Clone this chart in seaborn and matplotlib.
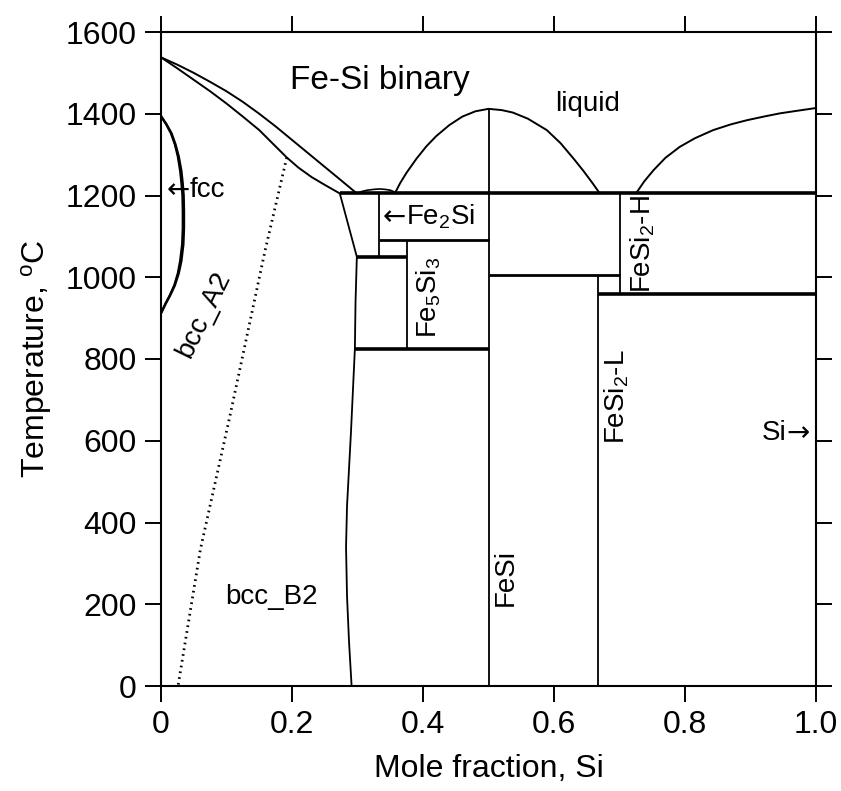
import matplotlib
matplotlib.use("Agg")
import matplotlib.pyplot as plt
import seaborn as sns

# ---------------------------------------------------------------- data
# Fe-rich liquidus / solidus (mole fraction Si, temperature degC)
liq_fe_x = [0.0, 0.025, 0.05, 0.075, 0.10, 0.125, 0.15, 0.175, 0.20, 0.225, 0.25, 0.275, 0.299]
liq_fe_T = [1538, 1520, 1500, 1478, 1455, 1429, 1400, 1369, 1336, 1303, 1270, 1237, 1205]
sol_fe_x = [0.0, 0.025, 0.05, 0.075, 0.10, 0.125, 0.15, 0.17, 0.192, 0.21, 0.23, 0.25, 0.273]
sol_fe_T = [1538, 1511, 1483, 1455, 1425, 1393, 1360, 1328, 1293, 1268, 1245, 1226, 1205]

# small Fe2Si liquidus hump
hump_x = [0.299, 0.307, 0.315, 0.325, 0.333, 0.342, 0.350, 0.356, 0.360]
hump_T = [1205, 1210, 1213, 1215, 1216, 1215, 1213, 1209, 1205]

# FeSi congruent-melting dome
dome_x = [0.357, 0.365, 0.375, 0.390, 0.405, 0.420, 0.440, 0.460, 0.480, 0.500,
          0.520, 0.537, 0.560, 0.589, 0.610, 0.630, 0.645, 0.658, 0.670]
dome_T = [1205, 1230, 1256, 1290, 1320, 1345, 1372, 1393, 1406, 1412,
          1409, 1403, 1388, 1360, 1328, 1290, 1260, 1232, 1205]

# Si-rich liquidus
liq_si_x = [0.726, 0.738, 0.752, 0.770, 0.792, 0.815, 0.843, 0.870, 0.894, 0.920, 0.945, 0.970, 1.0]
liq_si_T = [1207, 1235, 1262, 1292, 1319, 1340, 1360, 1374, 1384, 1393, 1401, 1407, 1414]

# gamma (fcc) loop, outer and inner boundaries
fcc_T = [1394, 1375, 1352, 1325, 1295, 1260, 1230, 1200, 1160, 1120,
         1080, 1040, 1010, 980, 955, 935, 912]
fcc_out_x = [0.0, 0.008, 0.016, 0.022, 0.027, 0.031, 0.033, 0.0345, 0.035, 0.035,
             0.034, 0.031, 0.027, 0.021, 0.0137, 0.007, 0.0]
fcc_in_x = [0.0, 0.0075, 0.015, 0.021, 0.0255, 0.029, 0.031, 0.0325, 0.033, 0.033,
            0.032, 0.029, 0.0255, 0.020, 0.013, 0.0065, 0.0]

# A2 / B2 ordering line
order_x = [0.192, 0.159, 0.105, 0.060, 0.026]
order_T = [1293, 1066, 659, 333, 0]

# B2 solvus (Fe-side single phase boundary), including the 1200-1050 wedge
b2_x = [0.273, 0.299, 0.297, 0.296, 0.290, 0.284, 0.2825, 0.284, 0.287, 0.291]
b2_T = [1205, 1050, 940, 825, 620, 440, 340, 220, 110, 0]

# invariant (horizontal) lines: temperature, x start, x end
inv_T = [1205, 1090, 1050, 825, 1005, 960]
inv_x0 = [0.273, 0.333, 0.299, 0.296, 0.500, 0.667]
inv_x1 = [1.000, 0.500, 0.375, 0.500, 0.700, 1.000]

# compound (vertical) lines: composition, T bottom, T top
cmp_x = [0.333, 0.375, 0.500, 0.667, 0.700]
cmp_T0 = [1050, 825, 0, 0, 960]
cmp_T1 = [1205, 1090, 1412, 1005, 1205]

x_ticks = [0.0, 0.2, 0.4, 0.6, 0.8, 1.0]
x_tick_labels = ["0", "0.2", "0.4", "0.6", "0.8", "1.0"]
y_ticks = [0, 200, 400, 600, 800, 1000, 1200, 1400, 1600]

# ---------------------------------------------------------------- style
sns.set_theme(style="ticks")
K = "black"
plt.rcParams["font.family"] = ["Liberation Sans", "DejaVu Sans"]
plt.rcParams["mathtext.fontset"] = "custom"
plt.rcParams["mathtext.rm"] = "Liberation Sans"
plt.rcParams["mathtext.it"] = "Liberation Sans"
plt.rcParams["mathtext.bf"] = "Liberation Sans:bold"
for key in ("text.color", "axes.labelcolor", "xtick.color", "ytick.color",
            "axes.edgecolor"):
    plt.rcParams[key] = K

fig = plt.figure(figsize=(8.41, 7.91), dpi=100)
ax = fig.add_axes([161 / 841, 1 - 686 / 791, 655 / 841, 654 / 791])


def curve(x, y, lw=1.4, **kw):
    sns.lineplot(x=x, y=y, ax=ax, sort=False, estimator=None, color=K,
                 linewidth=lw, **kw)


curve(liq_fe_x, liq_fe_T)
curve(sol_fe_x, sol_fe_T)
curve(hump_x, hump_T, lw=1.2)
curve(dome_x, dome_T)
curve(liq_si_x, liq_si_T)
curve(fcc_out_x, fcc_T, lw=1.8)
curve(fcc_in_x, fcc_T, lw=1.4)
curve(b2_x, b2_T, lw=1.3)
curve(order_x, order_T, lw=2.0, linestyle=(0, (0.6, 1.5)))

inv_lw = [2.6, 2.0, 2.6, 2.6, 2.0, 2.6]
for T, a, b, w in zip(inv_T, inv_x0, inv_x1, inv_lw):
    ax.hlines(T, a, b, colors=K, linewidth=w)
ax.vlines(cmp_x, cmp_T0, cmp_T1, colors=K, linewidth=1.3)

# ---------------------------------------------------------------- labels
fs = 20
ARROW_FONT = ["DejaVu Sans"]


def arrow_label(x, y, text, side):
    """Phase label with a long arrow pointing to the left or right."""
    if side == "left":
        arr = ax.text(x, y, "\u2190", fontsize=fs, family=ARROW_FONT,
                      va="center", ha="left")
        ax.annotate(text, xy=(1, 0.5), xycoords=arr, fontsize=fs,
                    va="center", ha="left")
    else:
        arr = ax.text(x, y, "\u2192", fontsize=fs, family=ARROW_FONT,
                      va="center", ha="right")
        ax.annotate(text, xy=(0, 0.5), xycoords=arr, fontsize=fs,
                    va="center", ha="right")


ax.text(0.197, 1482, "Fe-Si binary", fontsize=24, va="center", ha="left")
ax.text(0.652, 1424, "liquid", fontsize=fs, va="center", ha="center")
arrow_label(0.008, 1213, "fcc", "left")
arrow_label(0.338, 1148, "Fe$_2$Si", "left")
arrow_label(0.990, 620, "Si", "right")
ax.text(0.409, 950, "Fe$_5$Si$_3$", fontsize=fs, rotation=90, va="center", ha="center")
ax.text(0.735, 1080, "FeSi$_2$-H", fontsize=fs, rotation=90, va="center", ha="center")
ax.text(0.696, 708, "FeSi$_2$-L", fontsize=fs, rotation=90, va="center", ha="center")
ax.text(0.526, 265, "FeSi", fontsize=fs, rotation=90, va="center", ha="center")
ax.text(0.066, 908, "bcc_A2", fontsize=fs, rotation=64, va="center", ha="center")
ax.text(0.168, 218, "bcc_B2", fontsize=fs, va="center", ha="center")

# ---------------------------------------------------------------- axes
ax.set_xlim(0, 1.0)
ax.set_ylim(0, 1600)
ax.set_xticks(x_ticks)
ax.set_xticklabels(x_tick_labels)
ax.set_yticks(y_ticks)
ax.tick_params(direction="out", length=11.5, width=1.4, top=True, right=True,
               labelsize=23, pad=6, colors=K)
for s in ax.spines.values():
    s.set_linewidth(1.5)
    s.set_color(K)
ax.set_xlabel("Mole fraction, Si", fontsize=23, labelpad=10)
ax.set_ylabel("Temperature, $^{\\mathrm{o}}$C", fontsize=23, labelpad=8)

fig.savefig("out.png", dpi=100, facecolor="white")
